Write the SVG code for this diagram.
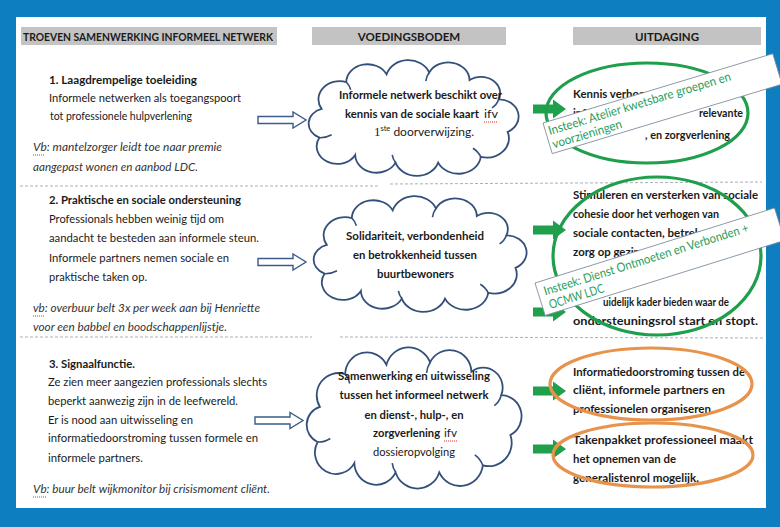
<svg xmlns="http://www.w3.org/2000/svg" xmlns:xlink="http://www.w3.org/1999/xlink" width="780" height="527" viewBox="0 0 780 527">
<style>
.t{font-family:Lato,"Liberation Sans",sans-serif;font-size:12px;fill:#1a1a1a}
.b{font-weight:bold}
.i{font-style:italic;fill:#333}
.hd{font-family:Lato,"Liberation Sans",sans-serif;font-size:11.5px;font-weight:bold;fill:#1a1a1a}
.bar{fill:#c3c3c3}
.sep{stroke:#a9b0b8;stroke-width:1;stroke-dasharray:3 2;fill:none}
.cloud{fill:#fff;stroke:#34507a;stroke-width:1.8;vector-effect:non-scaling-stroke}
.cin{fill:none;stroke:#34507a;stroke-width:1.6;vector-effect:non-scaling-stroke}
.harrow{fill:#fff;stroke:#3a5c86;stroke-width:1.4}
.garrow{fill:#1fa04c}
.gell{fill:none;stroke:#1f9e4c;stroke-width:3.2}
.oell{fill:none;stroke:#e8934c;stroke-width:3.2}
.note{fill:#fff;stroke:#7d8c9c;stroke-width:0.8}
.nt{font-family:Lato,"Liberation Sans",sans-serif;font-size:12.5px;fill:#2a9d5c}
.spell{stroke:#e02b2b;stroke-width:1;stroke-dasharray:1 1}
</style>
<defs>
<symbol id="cloudShape" viewBox="5 -2 190 123" preserveAspectRatio="none" overflow="visible">
<path class="cloud" d="M18,50 A19,19 0 0 1 40,22 A19,19 0 0 1 76,14 A20,20 0 0 1 114,12 A19,19 0 0 1 150,20 A17,17 0 0 1 176,40 A18,18 0 0 1 184,74 A20,20 0 0 1 160,100 A20,20 0 0 1 122,106 A20,20 0 0 1 84,106 A19,19 0 0 1 48,98 A18,18 0 0 1 16,80 A16,16 0 0 1 18,50 Z"/>
<path class="cin" d="M40,22 A18,18 0 0 1 44,30 M114,12 A20,20 0 0 0 111,21 M176,40 A17,17 0 0 1 170,49 M160,100 A20,20 0 0 0 153,91 M84,106 A20,20 0 0 1 81,98 M16,80 A18,18 0 0 0 27,77"/>
</symbol>
<path id="hArrow" class="harrow" d="M0,-3.5 H35 V-8 L48,0 L35,8 V3.5 H0 Z"/>
<path id="gArrow" class="garrow" d="M0,-4.5 H20 V-9.5 L33,0 L20,9.5 V4.5 H0 Z"/>
</defs>

<g id="frame">
<rect x="0" y="0" width="780" height="527" fill="#0d7fc1"/>
<rect x="16" y="17" width="750" height="491" fill="#fff"/>
<path class="sep" d="M20,186 H380 M390,184 L762,182"/>
<path class="sep" d="M20,337 H312 M340,337 L765,338"/>
</g>

<g id="header-troeven">
<rect class="bar" x="21" y="27" width="256" height="18"/>
<text class="hd" x="23" y="40.5" textLength="250" lengthAdjust="spacingAndGlyphs">TROEVEN SAMENWERKING INFORMEEL NETWERK</text>
</g>
<g id="header-voedingsbodem">
<rect class="bar" x="312" y="27" width="194" height="18"/>
<text class="hd" x="409" y="40.5" text-anchor="middle">VOEDINGSBODEM</text>
</g>
<g id="header-uitdaging">
<rect class="bar" x="573" y="27" width="188" height="18"/>
<text class="hd" x="667" y="40.5" text-anchor="middle">UITDAGING</text>
</g>

<g id="troef1">
<text class="t b" x="49" y="84" textLength="148" lengthAdjust="spacingAndGlyphs">1.  Laagdrempelige toeleiding</text>
<text class="t" x="49" y="102" textLength="192" lengthAdjust="spacingAndGlyphs">Informele netwerken als toegangspoort</text>
<text class="t" x="50" y="119.5" textLength="142" lengthAdjust="spacingAndGlyphs">tot professionele hulpverlening</text>
<text class="t i" x="33" y="151" textLength="189" lengthAdjust="spacingAndGlyphs">Vb: mantelzorger leidt toe naar premie</text>
<text class="t i" x="33" y="171" textLength="165" lengthAdjust="spacingAndGlyphs">aangepast wonen en aanbod LDC.</text>
<line class="spell" x1="33" y1="155" x2="45" y2="155"/>
</g>

<g id="troef2">
<text class="t b" x="49" y="204" textLength="192" lengthAdjust="spacingAndGlyphs">2. Praktische en sociale ondersteuning</text>
<text class="t" x="49" y="223" textLength="175" lengthAdjust="spacingAndGlyphs">Professionals hebben weinig tijd om</text>
<text class="t" x="49" y="242" textLength="210" lengthAdjust="spacingAndGlyphs">aandacht te besteden aan informele steun.</text>
<text class="t" x="49" y="262" textLength="180" lengthAdjust="spacingAndGlyphs">Informele partners nemen sociale en</text>
<text class="t" x="49" y="281" textLength="98" lengthAdjust="spacingAndGlyphs">praktische taken op.</text>
<text class="t i" x="33" y="312" textLength="227" lengthAdjust="spacingAndGlyphs">vb: overbuur belt 3x per week aan bij Henriette</text>
<text class="t i" x="33" y="331" textLength="194" lengthAdjust="spacingAndGlyphs">voor een babbel en boodschappenlijstje.</text>
<line class="spell" x1="33" y1="316" x2="44" y2="316"/>
</g>

<g id="troef3">
<text class="t b" x="49" y="368" textLength="86" lengthAdjust="spacingAndGlyphs">3. Signaalfunctie.</text>
<text class="t" x="48" y="386" textLength="219" lengthAdjust="spacingAndGlyphs">Ze zien meer aangezien professionals slechts</text>
<text class="t" x="48" y="405" textLength="190" lengthAdjust="spacingAndGlyphs">beperkt aanwezig zijn in de leefwereld.</text>
<text class="t" x="48" y="424" textLength="145" lengthAdjust="spacingAndGlyphs">Er is nood aan uitwisseling en</text>
<text class="t" x="48" y="442" textLength="210" lengthAdjust="spacingAndGlyphs">informatiedoorstroming tussen formele en</text>
<text class="t" x="48" y="462" textLength="95" lengthAdjust="spacingAndGlyphs">informele partners.</text>
<text class="t i" x="33" y="493" textLength="237" lengthAdjust="spacingAndGlyphs">Vb: buur belt wijkmonitor bij crisismoment cliënt.</text>
<line class="spell" x1="33" y1="497" x2="46" y2="497"/>
</g>

<g id="cloud1">
<use xlink:href="#cloudShape" x="307" y="59" width="213" height="118"/>
<text class="t b" x="420.5" y="99" text-anchor="middle" textLength="163" lengthAdjust="spacingAndGlyphs">Informele netwerk beschikt over</text>
<text class="t b" x="345" y="118" style="font-size:10.8px" textLength="134" lengthAdjust="spacingAndGlyphs">kennis van de sociale kaart</text>
<text class="t" x="484" y="118" textLength="14" lengthAdjust="spacingAndGlyphs">ifv</text>
<text class="t" x="424" y="136" text-anchor="middle"><tspan font-family="Liberation Serif,serif" font-size="13">1</tspan><tspan font-size="7.5" dy="-5">ste</tspan><tspan dy="5"> doorverwijzing.</tspan></text>
<line class="spell" x1="484" y1="122" x2="498" y2="122"/>
</g>

<g id="cloud2">
<use xlink:href="#cloudShape" x="312" y="195" width="216" height="118"/>
<text class="t b" x="415" y="240" text-anchor="middle" textLength="138" lengthAdjust="spacingAndGlyphs">Solidariteit, verbondenheid</text>
<text class="t b" x="415" y="259" text-anchor="middle" textLength="124" lengthAdjust="spacingAndGlyphs">en betrokkenheid tussen</text>
<text class="t b" x="415.5" y="278" text-anchor="middle" textLength="77" lengthAdjust="spacingAndGlyphs">buurtbewoners</text>
</g>

<g id="cloud3">
<use xlink:href="#cloudShape" x="305" y="346" width="218" height="144"/>
<text class="t b" x="414" y="380" text-anchor="middle" textLength="152" lengthAdjust="spacingAndGlyphs">Samenwerking en uitwisseling</text>
<text class="t b" x="414" y="399" text-anchor="middle" textLength="149" lengthAdjust="spacingAndGlyphs">tussen het informeel netwerk</text>
<text class="t b" x="414" y="419" text-anchor="middle" textLength="99" lengthAdjust="spacingAndGlyphs">en dienst-, hulp-, en</text>
<text class="t b" x="373" y="437" style="font-size:11px" textLength="67" lengthAdjust="spacingAndGlyphs">zorgverlening</text>
<text class="t" x="444" y="437" textLength="13" lengthAdjust="spacingAndGlyphs">ifv</text>
<text class="t" x="414" y="456" text-anchor="middle" textLength="82" lengthAdjust="spacingAndGlyphs">dossieropvolging</text>
<line class="spell" x1="444" y1="441" x2="457" y2="441"/>
</g>

<g id="connectors">
<use xlink:href="#hArrow" x="258" y="120"/>
<use xlink:href="#hArrow" x="258" y="262"/>
<use xlink:href="#hArrow" x="255" y="420.5"/>
<use xlink:href="#gArrow" x="533" y="109"/>
<use xlink:href="#gArrow" x="533" y="230"/>
<use xlink:href="#gArrow" x="533" y="312"/>
<use xlink:href="#gArrow" x="533" y="391"/>
<use xlink:href="#gArrow" x="533" y="449"/>
</g>

<g id="uitdaging1">
<text class="t b" x="573" y="98" textLength="72" lengthAdjust="spacingAndGlyphs">Kennis verhog</text>
<text class="t b" x="573" y="117" textLength="13" lengthAdjust="spacingAndGlyphs">inf</text>
<text class="t b" x="699" y="117" textLength="44" lengthAdjust="spacingAndGlyphs">relevante</text>
<text class="t b" x="645" y="139" textLength="85" lengthAdjust="spacingAndGlyphs">, en zorgverlening</text>
<ellipse class="gell" cx="647" cy="113" rx="101" ry="50"/>
</g>

<g id="uitdaging2">
<text class="t b" x="573" y="199" textLength="185" lengthAdjust="spacingAndGlyphs">Stimuleren en versterken van sociale</text>
<text class="t b" x="573" y="218" textLength="146" lengthAdjust="spacingAndGlyphs">cohesie door het verhogen van</text>
<text class="t b" x="573" y="237" textLength="128" lengthAdjust="spacingAndGlyphs">sociale contacten, betrek</text>
<text class="t b" x="573" y="256" textLength="67" lengthAdjust="spacingAndGlyphs">zorg op gezin</text>
<text class="t b" x="603" y="306" textLength="126" lengthAdjust="spacingAndGlyphs">uidelijk kader bieden waar de</text>
<text class="t b" x="573" y="325" textLength="185" lengthAdjust="spacingAndGlyphs">ondersteuningsrol start en stopt.</text>
<ellipse class="gell" cx="657" cy="256" rx="104" ry="79"/>
</g>

<g id="uitdaging3">
<text class="t b" x="573" y="376" textLength="172" lengthAdjust="spacingAndGlyphs">Informatiedoorstroming tussen de</text>
<text class="t b" x="573" y="394" textLength="152" lengthAdjust="spacingAndGlyphs">cliënt, informele partners en</text>
<text class="t b" x="573" y="413" textLength="138" lengthAdjust="spacingAndGlyphs">professionelen organiseren</text>
<ellipse class="oell" cx="651" cy="384" rx="101" ry="36"/>
</g>

<g id="uitdaging4">
<text class="t b" x="573" y="444" textLength="180" lengthAdjust="spacingAndGlyphs">Takenpakket professioneel maakt</text>
<text class="t b" x="573" y="463" textLength="103" lengthAdjust="spacingAndGlyphs">het opnemen van de</text>
<text class="t b" x="573" y="482" textLength="126" lengthAdjust="spacingAndGlyphs">generalistenrol mogelijk.</text>
<ellipse class="oell" cx="653" cy="455" rx="100" ry="32"/>
</g>

<g id="insteek1" transform="translate(543,123) rotate(-16.8)">
<rect class="note" x="0" y="0" width="240" height="32"/>
<text class="nt" x="3" y="13.5" textLength="190" lengthAdjust="spacingAndGlyphs">Insteek: Atelier kwetsbare groepen en</text>
<text class="nt" x="3" y="27.5" textLength="72" lengthAdjust="spacingAndGlyphs">voorzieningen</text>
</g>

<g id="insteek2" transform="translate(535,283) rotate(-17.4)">
<rect class="note" x="0" y="0" width="251" height="34"/>
<text class="nt" x="6" y="15" textLength="214" lengthAdjust="spacingAndGlyphs">Insteek: Dienst Ontmoeten en Verbonden +</text>
<text class="nt" x="7" y="29.5" textLength="57" lengthAdjust="spacingAndGlyphs">OCMW LDC</text>
</g>
</svg>
